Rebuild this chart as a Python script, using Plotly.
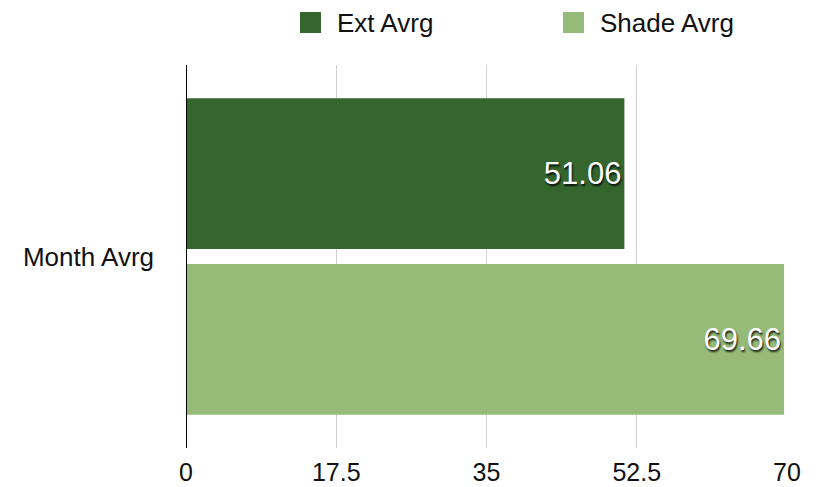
import plotly.graph_objects as go

categories = ["Month Avrg"]
ext_values = [51.06]
shade_values = [69.66]
series_names = ["Ext Avrg", "Shade Avrg"]
tick_vals = [0, 17.5, 35, 52.5, 70]
tick_text = ["0", "17.5", "35", "52.5", "70"]

FONT = "Liberation Sans, Arial, Helvetica, sans-serif"
colors = ["#34662e", "#96ba78"]

fig = go.Figure()
for name, vals, col in zip(series_names, [ext_values, shade_values], colors):
    fig.add_trace(go.Bar(
        y=categories, x=vals, name=name, orientation="h",
        marker=dict(color=col, line=dict(width=0)),
        text=[f"{v:.2f}" for v in vals],
        textposition="inside", insidetextanchor="end",
        textfont=dict(family=FONT, size=31, color="white",
                      shadow="1px 2px 2px rgba(0,0,0,0.85)"),
        showlegend=False,
    ))

# page has an 8px body margin: figure is drawn offset by (8, 8)
OFF = 8
W, H = 818 - OFF, 487 - OFF
L, R, T, B = 186 - OFF, 31, 65 - OFF, 39
pw, ph = W - L - R, H - T - B
def px_x(x):
    return (x - OFF - L) / pw
def px_y(y):
    return (H - B - (y - OFF)) / ph

shapes = [dict(type="line", xref="x", yref="paper", x0=0, x1=0, y0=0, y1=1,
               line=dict(color="black", width=2))]
annotations = []
legend_x = [300, 563]
for name, col, lx in zip(series_names, colors, legend_x):
    shapes.append(dict(type="rect", xref="paper", yref="paper",
                       x0=px_x(lx), x1=px_x(lx + 21), y0=px_y(33), y1=px_y(12),
                       fillcolor=col, line=dict(width=0)))
    annotations.append(dict(text=name, xref="paper", yref="paper",
                            x=px_x(lx + 35), y=px_y(23), xanchor="left", yanchor="middle",
                            showarrow=False, font=dict(size=26, color="#111111")))

fig.update_layout(
    width=W, height=H,
    margin=dict(l=L, r=R, t=T, b=B, autoexpand=False),
    paper_bgcolor="white", plot_bgcolor="white",
    barmode="group", bargap=0.135, bargroupgap=0.09,
    font=dict(family=FONT, size=25, color="#111111"),
    showlegend=False,
    xaxis=dict(range=[0, 70], tickvals=tick_vals, ticktext=tick_text,
               showgrid=True, gridcolor="#d0d0d0", gridwidth=1,
               zeroline=False, showline=False, ticks="", ticklabelstandoff=7,
               tickfont=dict(size=25)),
    yaxis=dict(range=[0.5, -0.5], autorange=False, showline=False, ticks="",
               ticklabelstandoff=31, tickfont=dict(size=26)),
    shapes=shapes,
    annotations=annotations,
    uniformtext=dict(minsize=10, mode="show"),
)

fig.write_html("out.html")
